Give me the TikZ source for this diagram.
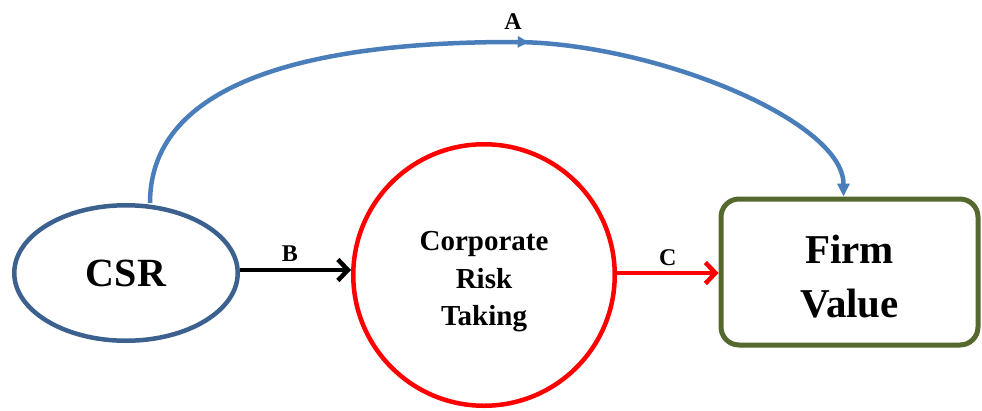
\documentclass[tikz,border=0pt]{standalone}
\usepackage{fontspec}
\setmainfont{Liberation Serif}
\usetikzlibrary{arrows.meta,shapes.geometric,decorations.markings}
\definecolor{csrblue}{RGB}{60,97,143}
\definecolor{arcblue}{RGB}{74,126,187}
\definecolor{riskred}{RGB}{255,0,0}
\definecolor{valuegreen}{RGB}{85,104,45}
\tikzset{every picture/.style={line width=4.5pt}}
\tikzset{
  pathlabel/.style={font=\fontsize{24}{28}\selectfont\bfseries, anchor=base, inner sep=0pt},
  midtip/.style={postaction={decorate}, decoration={markings,
    mark=at position 0.55 with {\arrow{Triangle[length=11pt,width=11pt]}}}}
}

\begin{document}
\begin{tikzpicture}[x=1pt,y=1pt,yscale=-1]
\useasboundingbox (0,0) rectangle (982,410);

%Shape: Ellipse
\node [draw=csrblue, ellipse, minimum width=223.5, minimum height=135.5, inner sep=0pt] (csr) at (126,273) {\fontsize{40}{48}\selectfont\bfseries CSR};
%Shape: Circle
\node [draw=riskred, circle, minimum size=261.5, inner sep=0pt,
  label={[name=crtlbl, yshift=-7, font=\fontsize{29}{37.5}\selectfont\bfseries, align=center]center:Corporate\\Risk\\Taking}] (crt) at (484,275) {};
%Shape: Rounded Rect
\node [draw=valuegreen, line width=5pt, rounded corners=18pt, minimum width=257, minimum height=146, inner sep=0pt,
  label={[name=fvlbl, yshift=-5, font=\fontsize{41}{54}\selectfont\bfseries, align=center]center:Firm\\Value}] (fv) at (849.5,272) {};

%Straight Lines
\draw [-{Straight Barb[length=10pt,width=21pt]}] ([yshift=-3]csr.east) -- ([yshift=-3]csr.east -| crt.west)
  node [pathlabel, pos=0.45, yshift=9] (lblb) {B};
%Straight Lines
\draw [riskred, -{Straight Barb[length=10pt,width=21pt]}] ([yshift=-2]crt.east) -- ([yshift=-2]crt.east -| fv.west)
  node [pathlabel, midway, yshift=8, black] (lblc) {C};

%Curve Lines
\coordinate (apex) at (513,42);
\draw [arcblue, midtip, -{Triangle[length=13pt,width=12pt]}] ([xshift=24]csr.north) .. controls +(0,-113) and +(-223,0) .. (apex)
  .. controls +(137,0) and +(0,-77) .. ([xshift=-6]fv.north);

% Text Node
\node [pathlabel] (lbla) at ([yshift=-13]apex) {A};

\end{tikzpicture}
\end{document}
